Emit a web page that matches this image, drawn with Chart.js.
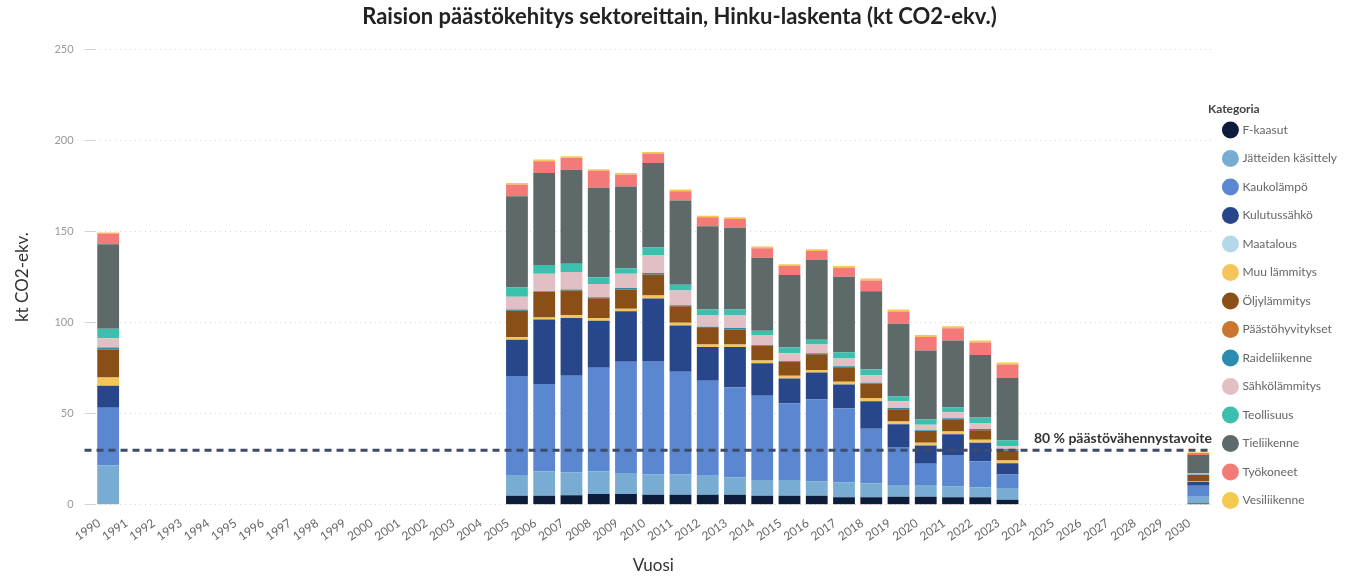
<!DOCTYPE html>
<html>
<head>
<meta charset="utf-8">
<script src="https://cdn.jsdelivr.net/npm/chart.js@4.4.1/dist/chart.umd.min.js"></script>
<style>
  html, body { margin: 0; padding: 0; background: #fff; }
  #wrap { width: 1355px; height: 576px; }
</style>
</head>
<body>
<div id="wrap"><canvas id="chart" width="1355" height="576"></canvas></div>
<script>
// Years on the x axis (1990 - 2030)
const years = [];
for (let y = 1990; y <= 2030; y++) years.push(String(y));

// Years that have a bar, in the same order as the series values below
const dataYears = ['1990', '2005', '2006', '2007', '2008', '2009', '2010', '2011', '2012', '2013',
  '2014', '2015', '2016', '2017', '2018', '2019', '2020', '2021', '2022', '2023', '2030'];

// Sector values, kt CO2-ekv.
const fKaasut        = [0,    5.0,  5.0,  5.3,  5.9,  5.9,  5.5,  5.5,  5.5,  5.5,  5.0,  5.0,  5.0,  4.1,  4.1,  4.4,  4.4,  4.1,  4.1,  2.8,  0.8];
const jatteet        = [21.7, 11.4, 13.4, 12.6, 12.5, 11.6, 11.1, 11.1, 10.9, 9.6,  8.6,  8.6,  7.9,  8.2,  7.7,  6.5,  6.5,  6.0,  5.5,  6.0,  3.6];
const kaukolampo     = [31.6, 54.3, 47.9, 53.0, 56.9, 61.1, 62.4, 56.5, 51.7, 49.4, 46.3, 42.0, 44.9, 40.6, 30.0, 20.8, 11.6, 17.3, 14.3, 7.8,  6.1];
const kulutussahko   = [12.1, 19.9, 35.4, 31.7, 25.8, 27.7, 34.3, 25.4, 18.5, 22.1, 17.8, 13.8, 14.8, 13.2, 15.1, 12.5, 10.1, 11.3, 10.2, 6.2,  2.2];
const maatalous      = [0,    0,    0,    0,    0,    0,    0,    0,    0,    0,    0,    0,    0,    0,    0,    0,    0,    0,    0,    0,    0];
const muuLammitys    = [4.5,  1.5,  1.2,  1.5,  1.3,  1.4,  1.6,  1.5,  1.4,  1.4,  1.5,  1.5,  1.4,  1.5,  1.8,  1.5,  1.5,  1.6,  1.6,  1.5,  0.4];
const oljylammitys   = [15.4, 14.5, 13.9, 13.6, 11.0, 10.5, 11.6, 9.0,  9.1,  8.3,  8.1,  7.6,  8.7,  7.9,  7.8,  6.8,  6.4,  6.7,  5.2,  5.5,  3.3];
const paastohyvitys  = [0,    0,    0,    0,    0,    0,    0,    0,    0,    0,    0,    0,    0,    0,    0,    0,    0,    0,    0,    0,    0];
const raideliikenne  = [1.0,  0.6,  0.5,  0.5,  0.6,  0.8,  0.8,  0.6,  0.7,  0.8,  0.5,  0.5,  0.5,  0.6,  0.5,  0.7,  0.4,  0.5,  0.7,  0.8,  0.3];
const sahkolammitys  = [5.1,  7.0,  9.6,  9.6,  7.2,  7.9,  9.9,  8.1,  6.1,  6.8,  5.4,  4.2,  4.8,  4.2,  4.1,  3.7,  3.1,  3.3,  3.3,  1.6,  0.3];
const teollisuus     = [5.2,  5.3,  4.8,  4.6,  3.7,  2.9,  4.1,  3.1,  3.3,  3.3,  2.4,  3.2,  2.6,  3.5,  3.3,  2.6,  2.8,  2.6,  3.0,  3.2,  0.3];
const tieliikenne    = [46.5, 49.9, 50.4, 51.6, 49.1, 45.0, 46.4, 46.2, 45.7, 44.9, 40.1, 39.8, 43.8, 41.4, 42.9, 39.9, 37.9, 36.8, 34.4, 34.2, 10.1];
const tyokoneet      = [5.9,  6.3,  6.5,  6.4,  9.4,  6.4,  5.1,  5.2,  4.9,  4.8,  5.2,  4.9,  5.0,  5.0,  5.9,  6.7,  7.4,  6.7,  6.8,  7.4,  1.1];
const vesiliikenne   = [0.5,  0.9,  0.9,  0.9,  0.8,  0.9,  0.9,  0.9,  0.9,  0.9,  0.9,  0.9,  0.9,  0.9,  1.1,  1.1,  1.1,  1.1,  1.1,  1.1,  0.4];

// 80 % reduction target
const targetValue = 30;
const targetLabel = '80 % päästövähennystavoite';

const sectors = [
  { label: 'F-kaasut',           values: fKaasut,       color: '#0e1c3b' },
  { label: 'Jätteiden käsittely', values: jatteet,      color: '#79acd2' },
  { label: 'Kaukolämpö',         values: kaukolampo,    color: '#5a87cf' },
  { label: 'Kulutussähkö',       values: kulutussahko,  color: '#28478a' },
  { label: 'Maatalous',          values: maatalous,     color: '#b2d8ea' },
  { label: 'Muu lämmitys',       values: muuLammitys,   color: '#f4c65a' },
  { label: 'Öljylämmitys',       values: oljylammitys,  color: '#8a4e17' },
  { label: 'Päästöhyvitykset',   values: paastohyvitys, color: '#c97630' },
  { label: 'Raideliikenne',      values: raideliikenne, color: '#2a8db0' },
  { label: 'Sähkölämmitys',      values: sahkolammitys, color: '#e2bec5' },
  { label: 'Teollisuus',         values: teollisuus,    color: '#3dbfae' },
  { label: 'Tieliikenne',        values: tieliikenne,   color: '#5e696a' },
  { label: 'Työkoneet',          values: tyokoneet,     color: '#f47a79' },
  { label: 'Vesiliikenne',       values: vesiliikenne,  color: '#f4c94f' }
];

// Spread the per-bar values onto the full year axis
function toYearSeries(values) {
  return years.map(y => {
    const i = dataYears.indexOf(y);
    return i === -1 ? null : values[i];
  });
}

const FONT = 'Lato, "Open Sans", sans-serif';

// Draws the dashed target line using the y scale
const targetLinePlugin = {
  id: 'targetLine',
  afterDatasetsDraw(chart) {
    const { ctx, chartArea, scales } = chart;
    const yPx = scales.y.getPixelForValue(targetValue);
    ctx.save();
    ctx.strokeStyle = '#3f4b69';
    ctx.lineWidth = 3;
    ctx.setLineDash([7, 5]);
    ctx.beginPath();
    ctx.moveTo(chartArea.left - 10, yPx);
    ctx.lineTo(chartArea.right, yPx);
    ctx.stroke();
    ctx.setLineDash([]);
    ctx.fillStyle = '#333';
    ctx.font = 'bold 14px ' + FONT;
    ctx.textAlign = 'right';
    ctx.textBaseline = 'bottom';
    ctx.fillText(targetLabel, chartArea.right, yPx - 5);
    ctx.restore();
  }
};

// legend padding sets both row gap and gap to the plot; pull the legend a bit closer to the bars
const legendNudgePlugin = {
  id: 'legendNudge',
  afterLayout(chart) {
    chart.legend.left -= 4;
    chart.legend.right -= 4;
  }
};

new Chart(document.getElementById('chart'), {
  type: 'bar',
  data: {
    labels: years,
    datasets: sectors.map(s => ({
      label: s.label,
      data: toYearSeries(s.values),
      backgroundColor: s.color,
      borderWidth: 0,
      categoryPercentage: 1,
      barPercentage: 0.8
    }))
  },
  options: {
    responsive: false,
    animation: false,
    layout: { padding: { left: 8, right: 4, top: 0, bottom: 0 } },
    plugins: {
      title: {
        display: true,
        text: 'Raision päästökehitys sektoreittain, Hinku-laskenta (kt CO2-ekv.)',
        color: '#222',
        font: { family: FONT, size: 22, weight: 'bold' },
        padding: { top: 4, bottom: 19 }
      },
      legend: {
        position: 'right',
        align: 'start',
        title: {
          display: true,
          text: 'Kategoria',
          position: 'start',
          color: '#444',
          font: { family: FONT, size: 12, weight: 'bold' },
          padding: { top: 103, bottom: -10 }
        },
        labels: {
          usePointStyle: true,
          pointStyle: 'circle',
          boxWidth: 12,
          boxHeight: 12,
          padding: 16.5,
          color: '#666',
          font: { family: FONT, size: 12 }
        }
      },
      tooltip: { enabled: false }
    },
    scales: {
      x: {
        stacked: true,
        grid: { display: false },
        border: { display: false },
        ticks: {
          autoSkip: false,
          minRotation: 35,
          maxRotation: 35,
          labelOffset: -9,
          color: '#666',
          font: { family: FONT, size: 12 }
        },
        title: {
          display: true,
          text: 'Vuosi',
          color: '#333',
          font: { family: FONT, size: 17 },
          padding: { top: 9, bottom: 0 }
        }
      },
      y: {
        stacked: true,
        min: 0,
        max: 250,
        border: { display: false, dash: [1, 4] },
        grid: { color: '#d4d4d4', lineWidth: 1, tickLength: 10 },
        ticks: {
          stepSize: 50,
          color: '#999',
          padding: 11,
          font: { family: FONT, size: 11 }
        },
        title: {
          display: true,
          text: 'kt CO2-ekv.',
          color: '#333',
          font: { family: FONT, size: 17 },
          padding: { top: 4, bottom: 11 }
        }
      }
    }
  },
  plugins: [targetLinePlugin, legendNudgePlugin]
});
</script>
</body>
</html>
